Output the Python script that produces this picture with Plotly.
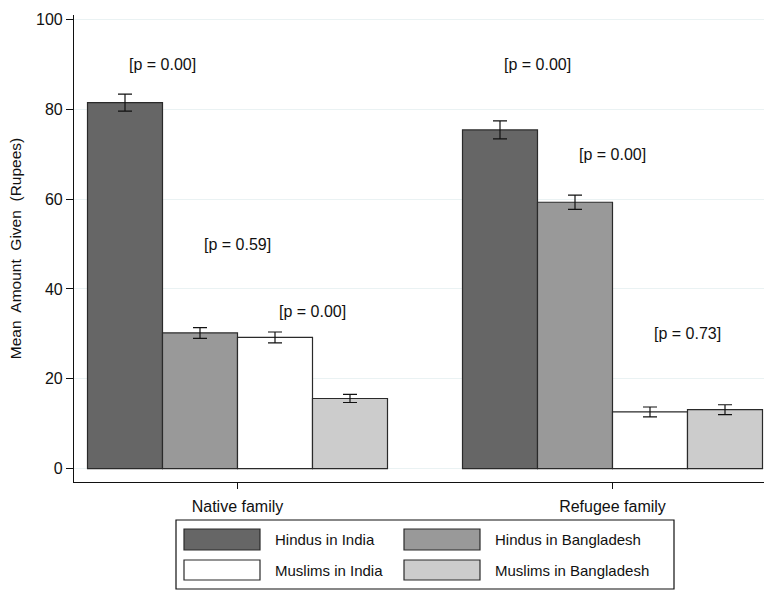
import plotly.graph_objects as go

# ---- data ----
categories = ["Native family", "Refugee family"]
series_names = ["Hindus in India", "Hindus in Bangladesh", "Muslims in India", "Muslims in Bangladesh"]
hindus_india = [81.5, 75.4]
hindus_bangladesh = [30.2, 59.3]
muslims_india = [29.2, 12.6]
muslims_bangladesh = [15.6, 13.1]
err_hindus_india = [1.9, 2.0]
err_hindus_bangladesh = [1.2, 1.6]
err_muslims_india = [1.2, 1.1]
err_muslims_bangladesh = [0.9, 1.1]
p_labels_native = ["[p = 0.00]", "[p = 0.59]", "[p = 0.00]"]
p_labels_refugee = ["[p = 0.00]", "[p = 0.00]", "[p = 0.73]"]
p_y_native = [90, 50, 35]
p_y_refugee = [90, 70, 30]
y_ticks = [0, 20, 40, 60, 80, 100]

values = [hindus_india, hindus_bangladesh, muslims_india, muslims_bangladesh]
errors = [err_hindus_india, err_hindus_bangladesh, err_muslims_india, err_muslims_bangladesh]
colors = ["#666666", "#999999", "#ffffff", "#cccccc"]

FONT = "Liberation Sans, Arial, sans-serif"
W, H = 764, 592
L, R, T, B = 74, 0, 15, 110
pw, ph = W - L - R, H - T - B

fig = go.Figure()
for name, v, e, c in zip(series_names, values, errors, colors):
    fig.add_trace(go.Bar(
        x=categories, y=v, name=name,
        marker=dict(color=c, line=dict(color="#2a2a2a", width=1.2)),
        error_y=dict(type="data", array=e, visible=True, color="#111111", thickness=1.2, width=7),
        showlegend=False,
    ))

bargap = 0.2
bw = (1 - bargap) / 4
annotations = []
for gi, (labels, ys) in enumerate([(p_labels_native, p_y_native), (p_labels_refugee, p_y_refugee)]):
    for k, (lab, yv) in enumerate(zip(labels, ys)):
        annotations.append(dict(
            x=gi + (k - 1) * bw, y=yv, xref="x", yref="y", text=lab, showarrow=False,
            font=dict(size=16, color="#111111", family=FONT), xanchor="center", yanchor="middle"))

def px(xp):
    return (xp - L) / pw

def py(yp):
    return (H - B - yp) / ph

shapes = [dict(type="rect", xref="paper", yref="paper", x0=px(176), x1=px(674), y0=py(589), y1=py(520),
               line=dict(color="#111111", width=1.2), fillcolor="white", layer="above")]
sw_x = [(184, 260), (404, 480)]
txt_x = [273, 493]
rows = [(529, 550), (560, 580)]
for i, (name, c) in enumerate(zip(series_names, colors)):
    r, col = divmod(i, 2)
    y0, y1 = rows[r]
    x0, x1 = sw_x[col]
    shapes.append(dict(type="rect", xref="paper", yref="paper", x0=px(x0), x1=px(x1), y0=py(y1), y1=py(y0),
                       line=dict(color="#2a2a2a", width=1.2), fillcolor=c, layer="above"))
    annotations.append(dict(x=px(txt_x[col]), y=py((y0 + y1) / 2), xref="paper", yref="paper", text=name,
                            showarrow=False, xanchor="left", yanchor="middle",
                            font=dict(size=15, color="#111111", family=FONT)))

fig.update_layout(
    width=W, height=H,
    margin=dict(l=L, r=R, t=T, b=B, autoexpand=False),
    paper_bgcolor="white", plot_bgcolor="white",
    barmode="group", bargap=bargap, bargroupgap=0,
    font=dict(family=FONT, color="#111111"),
    annotations=annotations, shapes=shapes,
    showlegend=False,
)
fig.update_xaxes(
    range=[-0.436, 1.404], showline=True, linecolor="#111111", linewidth=1.2,
    ticks="outside", ticklen=6, tickcolor="#111111", tickfont=dict(size=16, family=FONT, color="#111111"),
    ticklabelstandoff=4,
    showgrid=False, zeroline=False, automargin=False,
)
fig.update_yaxes(
    range=[-3.0, 101.0], tickvals=y_ticks, showline=True, linecolor="#111111", linewidth=1.2,
    ticks="outside", ticklen=7, tickcolor="#111111", tickfont=dict(size=16, family=FONT, color="#111111"),
    showgrid=True, gridcolor="#eaf2f3", gridwidth=1, zeroline=False, automargin=False,
    title=dict(text="Mean  Amount  Given  (Rupees)", font=dict(size=15.5, family=FONT, color="#111111"), standoff=10),
)
fig.write_html("out.html", config={"displayModeBar": False},
               post_script="document.body.style.margin='0';document.body.style.overflow='hidden';")
